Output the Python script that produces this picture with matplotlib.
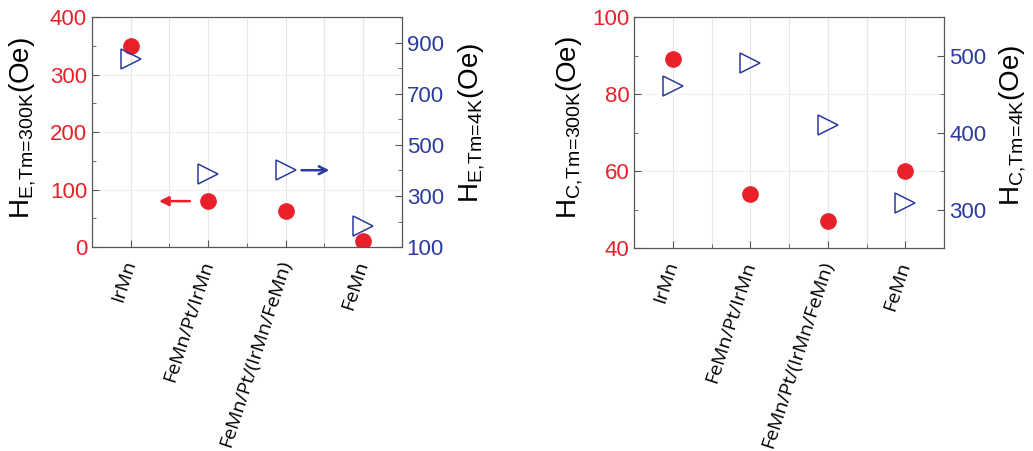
import matplotlib
matplotlib.use("Agg")
import matplotlib.pyplot as plt
from matplotlib.ticker import MultipleLocator

samples = ["IrMn", "FeMn/Pt/IrMn", "FeMn/Pt/(IrMn/FeMn)", "FeMn"]
xpos = [0, 1, 2, 3]

# exchange bias
he_300k = [350, 80, 62, 11]
he_4k = [838, 386, 401, 182]

# coercivity
hc_300k = [89, 54, 47, 60]
hc_4k = [460, 490, 410, 308]

red = "#e8202a"
blue = "#2b3a9c"
plt.rcParams['font.family'] = ['Liberation Sans', 'DejaVu Sans']
plt.rcParams['mathtext.fontset'] = 'custom'
plt.rcParams['mathtext.rm'] = 'Liberation Sans'


def style(ax, ax2):
    for a in (ax, ax2):
        for s in a.spines.values():
            s.set_color("#555555")
    ax.set_xlim(-0.5, 3.5)
    ax.set_xticks(xpos)
    ax.xaxis.set_minor_locator(MultipleLocator(0.5))
    ax.set_xticklabels(samples, rotation=72, ha='right', va='center',
                       rotation_mode='anchor', fontsize=14, family='Open Sans')
    ax.tick_params(axis='x', which='both', direction='in', pad=10, colors='#555555',
                   labelcolor='black')
    ax.tick_params(axis='y', which='both', direction='in', colors='#555555',
                   labelcolor=red, labelsize=16)
    ax2.tick_params(axis='y', which='both', direction='in', colors='#555555',
                    labelcolor=blue, labelsize=16)
    ax.tick_params(which='major', length=5)
    ax.tick_params(which='minor', length=3)
    ax2.tick_params(which='major', length=5)
    ax2.tick_params(which='minor', length=3)
    ax.grid(True, which='both', axis='x', color='#e6e6e6', lw=0.8)
    ax.grid(True, which='major', axis='y', color='#f0f0f0', lw=0.8)
    ax.set_axisbelow(True)


def hlabel(main, sub):
    return r'$\mathregular{' + main + '_{' + sub + '}}$(Oe)'


fig = plt.figure(figsize=(10.33, 4.51), dpi=100)

# left panel: H_E
ax1 = fig.add_axes([0.089, 0.452, 0.300, 0.510])
ax1b = ax1.twinx()
ax1.plot(xpos, he_300k, 'o', color=red, ms=11, zorder=3)
ax1b.plot(xpos, he_4k, '>', mfc='none', mec=blue, mew=1.1, ms=14, zorder=3)
ax1.set_ylim(0, 400)
ax1.yaxis.set_major_locator(MultipleLocator(100))
ax1.yaxis.set_minor_locator(MultipleLocator(50))
ax1b.set_ylim(100, 1000)
ax1b.set_yticks([100, 300, 500, 700, 900])
ax1b.yaxis.set_minor_locator(MultipleLocator(100))
style(ax1, ax1b)
ax1.set_ylabel(hlabel('H', r'E,\!Tm\!=\!300K'), fontsize=20)
ax1.yaxis.set_label_coords(-0.174, 0.52)
ax1b.set_ylabel(hlabel('H', r'E,\!Tm\!=\!4K'), fontsize=20)
ax1b.yaxis.set_label_coords(1.177, 0.54)
ax1.annotate('', xy=(0.33, 80), xytext=(0.8, 80),
             arrowprops=dict(arrowstyle='-|>', color=red, lw=1.8, mutation_scale=14))
ax1b.annotate('', xy=(2.6, 401), xytext=(2.17, 401),
              arrowprops=dict(arrowstyle='->', color=blue, lw=1.8, mutation_scale=14))

# right panel: H_C
ax2 = fig.add_axes([0.614, 0.450, 0.300, 0.512])
ax2b = ax2.twinx()
ax2.plot(xpos, hc_300k, 'o', color=red, ms=11, zorder=3)
ax2b.plot(xpos, hc_4k, '>', mfc='none', mec=blue, mew=1.1, ms=14, zorder=3)
ax2.set_ylim(40, 100)
ax2.yaxis.set_major_locator(MultipleLocator(20))
ax2.yaxis.set_minor_locator(MultipleLocator(10))
ax2b.set_ylim(250, 550)
ax2b.set_yticks([300, 400, 500])
ax2b.yaxis.set_minor_locator(MultipleLocator(50))
style(ax2, ax2b)
ax2.set_ylabel(hlabel('H', r'C,\!Tm\!=\!300K'), fontsize=20)
ax2.yaxis.set_label_coords(-0.158, 0.52)
ax2b.set_ylabel(hlabel('H', r'C,\!Tm\!=\!4K'), fontsize=20)
ax2b.yaxis.set_label_coords(1.171, 0.53)

fig.savefig('out.png', dpi=100)
